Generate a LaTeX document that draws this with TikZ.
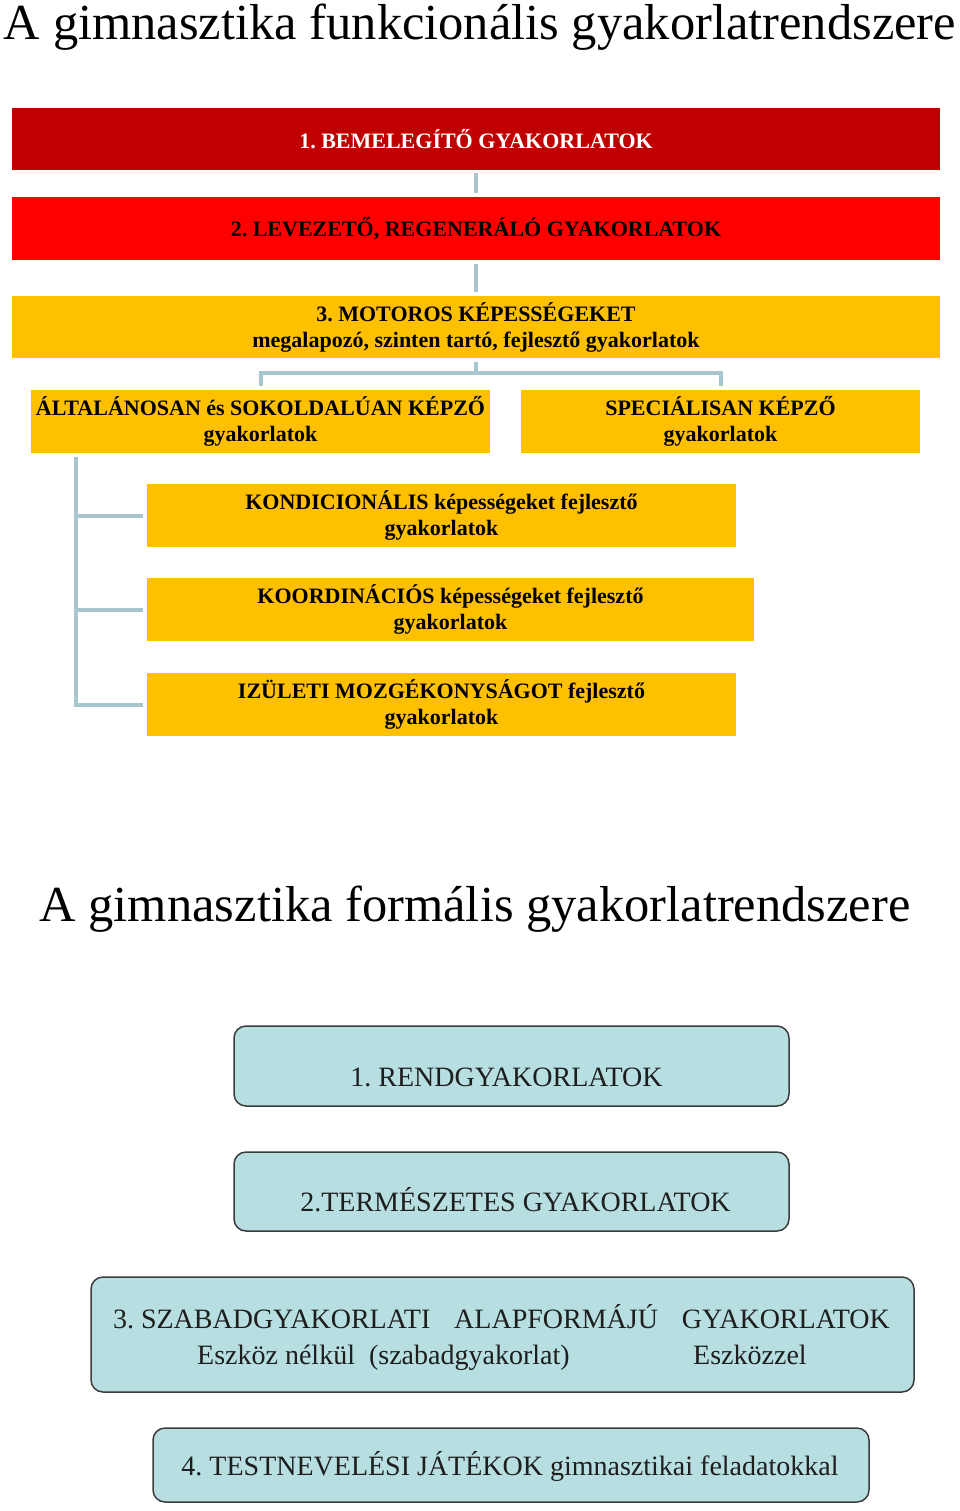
\documentclass[tikz,border=0pt]{standalone}
\usepackage{fontspec}
\setmainfont{Liberation Serif}
\usetikzlibrary{calc}
\frenchspacing
\definecolor{darkred}{HTML}{C00000}
\definecolor{brightred}{HTML}{FF0000}
\definecolor{amber}{HTML}{FFC000}
\definecolor{connc}{HTML}{A9C6CF}
\definecolor{paleblue}{HTML}{B7DEE1}
\definecolor{edgegray}{HTML}{3C3C3C}
\definecolor{inkc}{HTML}{1E1E1E}
\tikzset{
  flatbox/.style={inner sep=0pt, align=center, font=\fontsize{22}{26}\selectfont\bfseries},
  titletext/.style={inner sep=0pt, anchor=base, font=\fontsize{50.5}{56}\selectfont},
  conn/.style={draw=connc, line width=4pt},
  roundbox/.style={draw=edgegray, line width=1.5pt, fill=paleblue, rounded corners=12pt, inner sep=0pt},
  bluetext/.style={inner sep=0pt, anchor=base, text=inkc, font=\fontsize{28}{32}\selectfont}
}
\begin{document}
\begin{tikzpicture}[x=1pt,y=-1pt]
\useasboundingbox (0,0) rectangle (960,1511);
% titles
\node[titletext] (title1) at (480,40) {A gimnasztika funkcionális gyakorlatrendszere};
\node[titletext] (title2) at (475,921) {A gimnasztika formális gyakorlatrendszere};
% functional system
\node[flatbox, fill=darkred, text=white, minimum width=928pt, minimum height=62pt] (b1) at (476,139) {1. BEMELEGÍTŐ GYAKORLATOK};
\node[flatbox, fill=brightred, minimum width=928pt, minimum height=63pt] (b2) at (476,228.5) {2. LEVEZETŐ, REGENERÁLÓ GYAKORLATOK};
\node[flatbox, fill=amber, minimum width=928pt, minimum height=62pt] (b3) at (476,327) {3. MOTOROS KÉPESSÉGEKET\\megalapozó, szinten tartó, fejlesztő gyakorlatok};
\node[flatbox, fill=amber, minimum width=459pt, minimum height=63pt] (b4) at (260.5,421.5) {ÁLTALÁNOSAN és SOKOLDALÚAN KÉPZŐ\\gyakorlatok};
\node[flatbox, fill=amber, minimum width=399pt, minimum height=63pt] (b5) at (720.5,421.5) {SPECIÁLISAN KÉPZŐ\\gyakorlatok};
\node[flatbox, fill=amber, minimum width=589pt, minimum height=63pt] (b6) at (441.5,515.5) {KONDICIONÁLIS képességeket fejlesztő\\gyakorlatok};
\node[flatbox, fill=amber, minimum width=607pt, minimum height=63pt] (b7) at (450.5,609.5) {KOORDINÁCIÓS képességeket fejlesztő\\gyakorlatok};
\node[flatbox, fill=amber, minimum width=589pt, minimum height=63pt] (b8) at (441.5,704.5) {IZÜLETI MOZGÉKONYSÁGOT fejlesztő\\gyakorlatok};
% connectors
\draw[conn, shorten <=3pt, shorten >=4pt] (b1.south) -- (b2.north);
\draw[conn, shorten <=4pt, shorten >=4pt] (b2.south) -- (b3.north);
\coordinate (j) at (476,373);
\draw[conn, shorten <=4pt, shorten >=4pt] (b3.south) -- (j) -| (b4.north);
\draw[conn, shorten >=4pt] (j) -| (b5.north);
\coordinate (tl) at (76,453);
\draw[conn, shorten <=4pt, shorten >=4pt] (tl) |- (b8.west);
\draw[conn, shorten >=4pt] (tl |- b6.west) -- (b6.west);
\draw[conn, shorten >=4pt] (tl |- b7.west) -- (b7.west);
% formal system
\node[roundbox, minimum width=555pt, minimum height=80pt] (c1) at (511.5,1066) {};
\node[bluetext] (c1t) at (506.5,1086) {1. RENDGYAKORLATOK};
\node[roundbox, minimum width=555pt, minimum height=79pt] (c2) at (511.5,1191.5) {};
\node[bluetext] (c2t) at (515.5,1211) {2.TERMÉSZETES GYAKORLATOK};
\node[roundbox, minimum width=823pt, minimum height=115pt] (c3) at (502.5,1334.5) {};
\node[bluetext] (c3t) at (501.5,1328) {\makebox[777pt][s]{3. SZABADGYAKORLATI\hfill ALAPFORMÁJÚ\hfill GYAKORLATOK}};
\node[bluetext, anchor=base west] (c3a) at (197,1364) {Eszköz nélkül\ \ (szabadgyakorlat)};
\node[bluetext, anchor=base west] (c3b) at (693,1364) {Eszközzel};
\node[roundbox, minimum width=716pt, minimum height=74pt] (c4) at (511,1465) {};
\node[bluetext] (c4t) at (510,1475) {4. TESTNEVELÉSI JÁTÉKOK gimnasztikai feladatokkal};
\end{tikzpicture}
\end{document}
